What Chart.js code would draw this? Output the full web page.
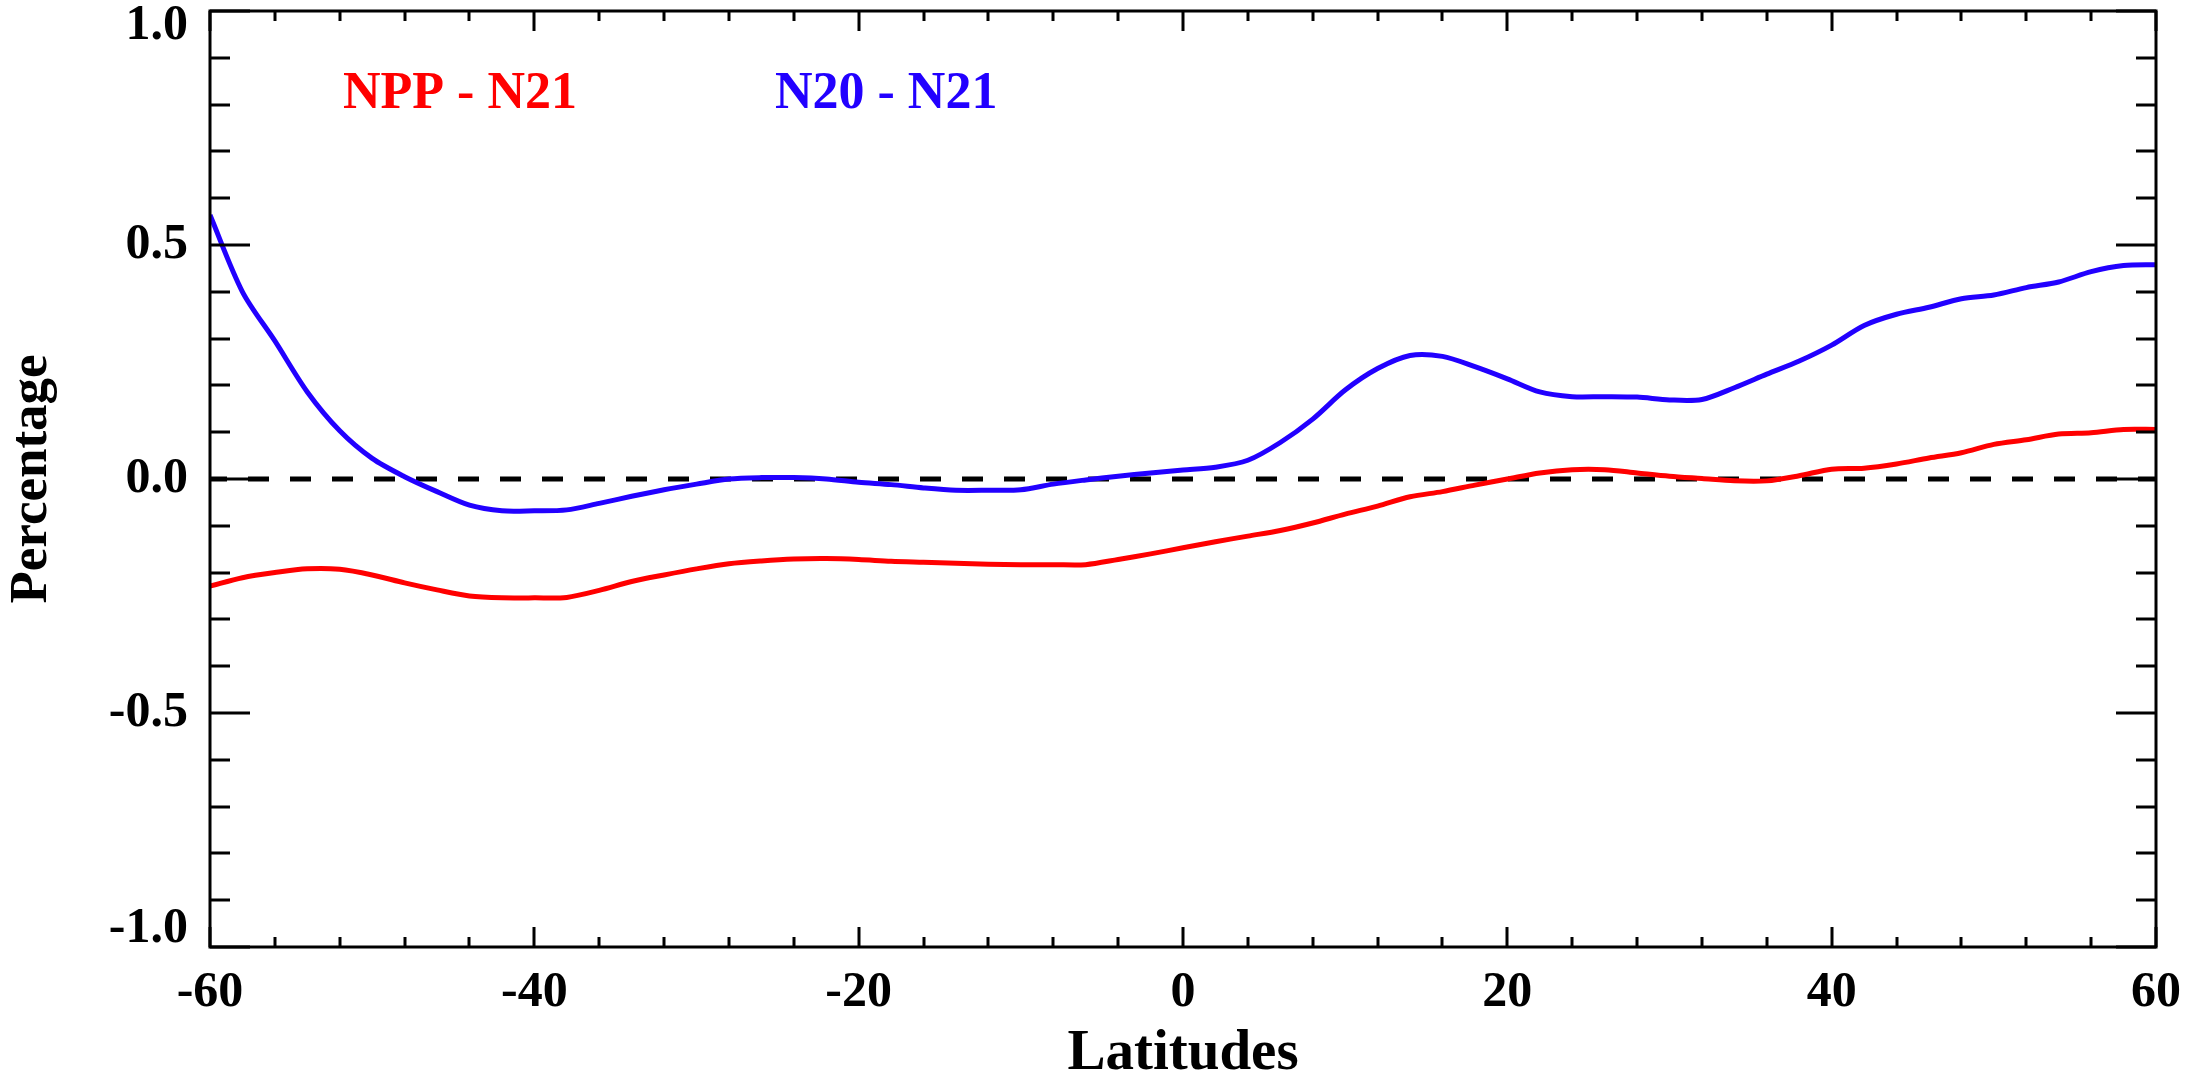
<!DOCTYPE html>
<html><head><meta charset="utf-8">
<script src="https://cdn.jsdelivr.net/npm/chart.js@4/dist/chart.umd.min.js"></script>
<style>html,body{margin:0;padding:0;background:#fff;overflow:hidden}canvas{display:block}</style>
</head><body>
<canvas id="c" width="2197" height="1077"></canvas>
<script>
const latitudes = [-60,-58,-56,-54,-52,-50,-48,-46,-44,-42,-40,-38,-36,-34,-32,-30,-28,-26,-24,-22,-20,-18,-16,-14,-12,-10,-8,-6,-4,-2,0,2,4,6,8,10,12,14,16,18,20,22,24,26,28,30,32,34,36,38,40,42,44,46,48,50,52,54,56,58,60];
const nppMinusN21 = [-0.229,-0.211,-0.200,-0.192,-0.193,-0.205,-0.222,-0.237,-0.250,-0.254,-0.254,-0.253,-0.238,-0.219,-0.205,-0.192,-0.181,-0.175,-0.171,-0.170,-0.172,-0.176,-0.178,-0.180,-0.182,-0.183,-0.183,-0.183,-0.172,-0.160,-0.147,-0.134,-0.122,-0.110,-0.094,-0.075,-0.058,-0.038,-0.027,-0.013,0.000,0.013,0.020,0.020,0.013,0.006,0.001,-0.004,-0.004,0.007,0.021,0.023,0.032,0.045,0.056,0.074,0.084,0.096,0.099,0.106,0.106];
const n20MinusN21 = [0.564,0.400,0.295,0.186,0.103,0.044,0.005,-0.027,-0.056,-0.068,-0.068,-0.066,-0.052,-0.037,-0.023,-0.011,0.000,0.003,0.003,0.000,-0.007,-0.012,-0.019,-0.024,-0.024,-0.023,-0.011,-0.002,0.006,0.013,0.019,0.025,0.040,0.078,0.128,0.190,0.236,0.264,0.262,0.240,0.214,0.186,0.176,0.176,0.175,0.169,0.170,0.195,0.224,0.252,0.286,0.328,0.352,0.367,0.385,0.393,0.409,0.421,0.443,0.456,0.458];
const zeroLineLat = [-60, 60];
const zeroLineVal = [0, 0];
const seriesNames = ['NPP - N21', 'N20 - N21'];
const seriesColors = ['#FF0000', '#2200FF'];
const xTickValues = [-60,-40,-20,0,20,40,60];
const yTickValues = [-1.0,-0.5,0.0,0.5,1.0];
const yTickLabels = ['-1.0','-0.5','0.0','0.5','1.0'];
const xTitle = 'Latitudes';
const yTitle = 'Percentage';

const pts = (xs, ys) => xs.map((v, i) => ({x: v, y: ys[i]}));

const framePlugin = {
  id: 'idlFrame',
  afterDraw(chart) {
    const {ctx, chartArea: a, scales: {x, y}} = chart;
    ctx.save();
    ctx.strokeStyle = '#000';
    ctx.lineWidth = 3;
    ctx.lineCap = 'butt';
    ctx.strokeRect(a.left, a.top, a.right - a.left, a.bottom - a.top);
    ctx.beginPath();
    for (let v = x.min; v <= x.max; v += 4) {
      const px = Math.round(x.getPixelForValue(v));
      const L = xTickValues.includes(v) ? 20 : 10;
      ctx.moveTo(px, a.bottom); ctx.lineTo(px, a.bottom - L);
      ctx.moveTo(px, a.top); ctx.lineTo(px, a.top + L);
    }
    for (let i = -10; i <= 10; i++) {
      const v = i / 10;
      const py = Math.round(y.getPixelForValue(v));
      const L = (i % 5 === 0) ? 40 : 20;
      ctx.moveTo(a.left, py); ctx.lineTo(a.left + L, py);
      ctx.moveTo(a.right, py); ctx.lineTo(a.right - L, py);
    }
    ctx.stroke();
    // y tick labels
    ctx.fillStyle = '#000';
    ctx.font = 'bold 50px "Liberation Serif"';
    ctx.textAlign = 'right';
    ctx.textBaseline = 'middle';
    yTickValues.forEach((v, i) => {
      let py = y.getPixelForValue(v);
      py = Math.max(py, a.top + 15);
      py = Math.min(py, a.bottom - 18);
      ctx.fillText(yTickLabels[i], a.left - 22, py);
    });
    // in-plot legend text
    ctx.font = 'bold 52px "Liberation Serif"';
    ctx.textAlign = 'left';
    ctx.textBaseline = 'alphabetic';
    const lx = [a.left + 133, a.left + 565];
    seriesNames.forEach((n, i) => {
      ctx.fillStyle = seriesColors[i];
      ctx.fillText(n, lx[i], a.top + 97);
    });
    ctx.restore();
  }
};

new Chart(document.getElementById('c'), {
  type: 'line',
  data: {
    datasets: [
      {label: seriesNames[0], data: pts(latitudes, nppMinusN21), borderColor: seriesColors[0], borderWidth: 5, pointRadius: 0, tension: 0.3, fill: false},
      {label: seriesNames[1], data: pts(latitudes, n20MinusN21), borderColor: seriesColors[1], borderWidth: 5, pointRadius: 0, tension: 0.3, fill: false},
      {label: 'zero', data: pts(zeroLineLat, zeroLineVal), borderColor: '#000', borderWidth: 5, borderDash: [21, 21], borderDashOffset: 4, pointRadius: 0, fill: false}
    ]
  },
  options: {
    responsive: false,
    animation: false,
    events: [],
    layout: {padding: {top: 11, right: 41, left: 0, bottom: 0}},
    plugins: {legend: {display: false}, tooltip: {enabled: false}},
    scales: {
      x: {
        type: 'linear', min: -60, max: 60,
        afterBuildTicks: s => { s.ticks = xTickValues.map(v => ({value: v})); },
        afterFit: s => { s.height = 130; },
        grid: {display: false, drawTicks: false},
        border: {display: false},
        ticks: {color: '#000', padding: 16, maxRotation: 0, autoSkip: false,
          font: {family: '"Liberation Serif"', size: 50, weight: 'bold'},
          callback: v => String(v)},
        title: {display: true, text: xTitle, color: '#000', padding: {top: 0, bottom: 0},
          font: {family: '"Liberation Serif"', size: 57, weight: 'bold', lineHeight: 0.8}}
      },
      y: {
        type: 'linear', min: -1, max: 1,
        afterBuildTicks: s => { s.ticks = yTickValues.map(v => ({value: v})); },
        afterFit: s => { s.width = 210; },
        grid: {display: false, drawTicks: false},
        border: {display: false},
        ticks: {display: false},
        title: {display: true, text: yTitle, color: '#000', padding: {top: 6, bottom: 0},
          font: {family: '"Liberation Serif"', size: 53, weight: 'bold', lineHeight: 1}}
      }
    }
  },
  plugins: [framePlugin]
});
</script>
</body></html>
